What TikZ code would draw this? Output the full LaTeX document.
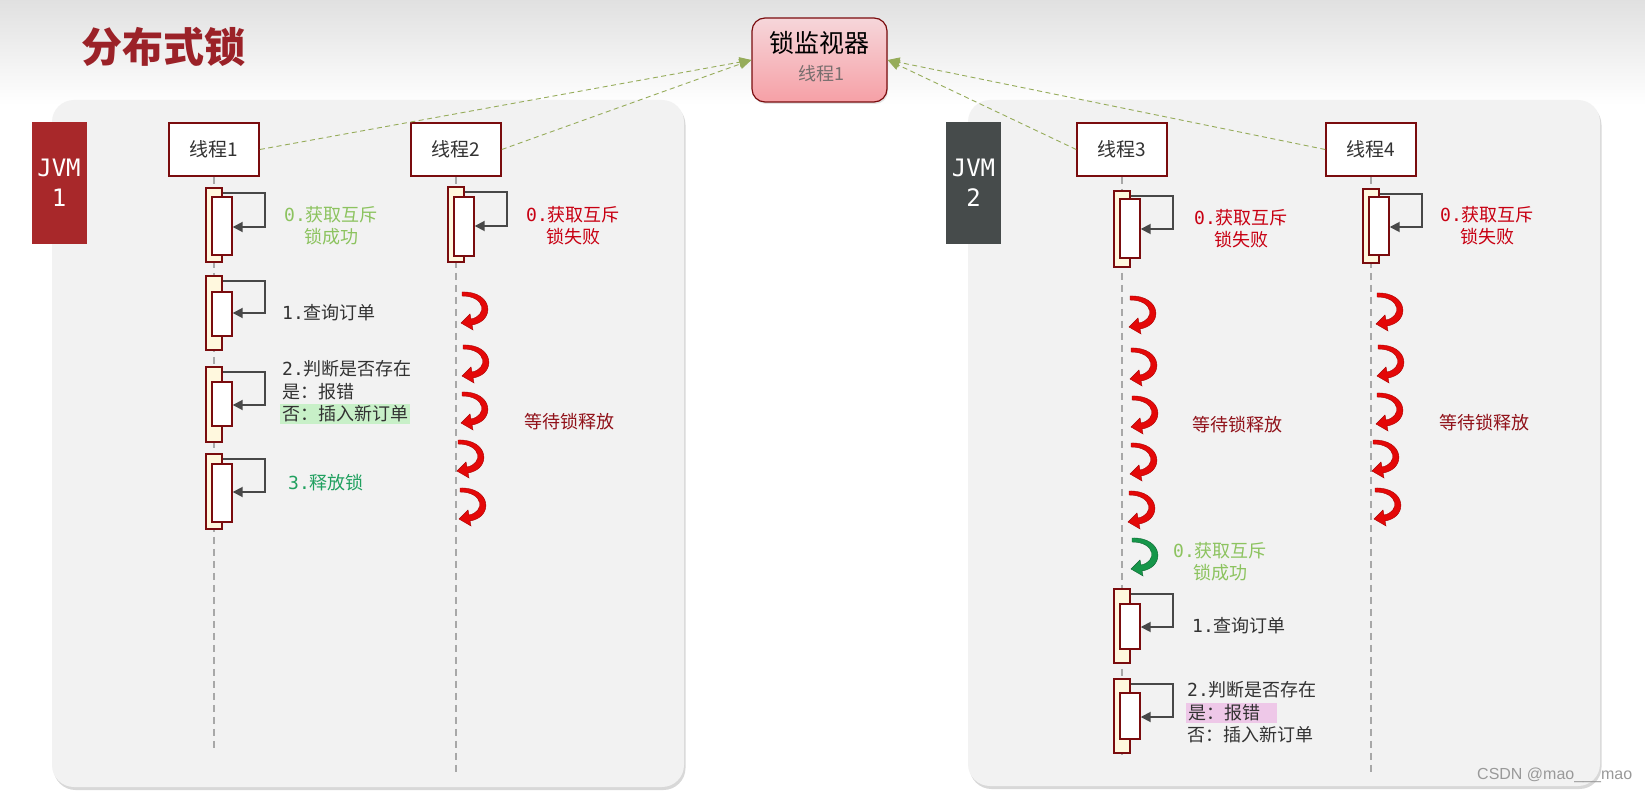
\documentclass[tikz,border=0pt]{standalone}
\usepackage{fontspec}
\usepackage{tikz}
\usetikzlibrary{arrows.meta,shadows,positioning}

\setmainfont{Noto Sans CJK SC}
\newfontfamily\jvmfont{DejaVu Sans Mono}
\newfontfamily\wmfont{Liberation Sans}

\definecolor{titlered}{RGB}{155,34,40}
\definecolor{boxred}{RGB}{122,12,14}
\definecolor{jvmred}{RGB}{168,40,42}
\definecolor{jvmgrey}{RGB}{70,75,75}
\definecolor{panelgrey}{RGB}{242,242,242}
\definecolor{barcream}{RGB}{255,248,222}
\definecolor{selfgrey}{RGB}{72,72,72}
\definecolor{lifegrey}{RGB}{168,168,168}
\definecolor{lockgreen}{RGB}{150,172,90}
\definecolor{okgreen}{RGB}{140,195,95}
\definecolor{relgreen}{RGB}{32,160,95}
\definecolor{failred}{RGB}{200,0,18}
\definecolor{waitred}{RGB}{145,18,26}
\definecolor{curlred}{RGB}{228,8,8}
\definecolor{curldark}{RGB}{170,0,0}
\definecolor{curlgreen}{RGB}{22,150,74}
\definecolor{curlgdark}{RGB}{12,100,48}
\definecolor{hlgreen}{RGB}{200,240,200}
\definecolor{hlpink}{RGB}{238,200,232}
\definecolor{textgrey}{RGB}{50,50,50}
\definecolor{subgrey}{RGB}{120,110,110}
\definecolor{pinktop}{RGB}{246,214,218}
\definecolor{pinkbot}{RGB}{246,160,166}

\begin{document}
\begin{tikzpicture}[x=1pt,y=-1pt,
  thread/.style={draw=boxred, line width=1.6pt, fill=white, minimum width=90pt, minimum height=53pt, font=\fontsize{19}{22}\selectfont, text=textgrey},
  jvm/.style={minimum width=55pt, minimum height=122pt, align=center, text=white, font=\jvmfont\fontsize{24}{30}\selectfont},
  outerbar/.style={draw=boxred, line width=1.4pt, fill=barcream, minimum width=16pt, inner sep=0pt},
  innerbar/.style={draw=boxred, line width=1.4pt, fill=white, minimum width=20pt, inner sep=0pt},
  selfarrow/.style={draw=selfgrey, line width=1.8pt, -{Triangle[length=10pt,width=10pt]}},
  lifeline/.style={draw=lifegrey, line width=1.3pt, dash pattern=on 7pt off 5pt},
  lockarrow/.style={draw=lockgreen, line width=0.9pt, dash pattern=on 5pt off 3.5pt, -{Triangle[length=12pt,width=10pt]}},
  lbl/.style={font=\fontsize{18}{22}\selectfont, align=center, inner sep=0pt},
  curl/.pic={
    \path[pic actions] (0,-17) .. controls (31,-18) and (34,12) .. (10,16)
      -- (11,21) -- (-1,14) -- (8,5) -- (9,10)
      .. controls (25,7) and (24,-13) .. (0,-13) -- cycle;
  }
]

\useasboundingbox (0,0) rectangle (1645,791);

% background
\fill[white] (0,0) rectangle (1645,791);
\shade[top color=black!12, bottom color=white] (0,0) rectangle (1645,105);

% draw panels
\fill[panelgrey, rounded corners=22pt, drop shadow={shadow xshift=1.5pt, shadow yshift=-3pt, opacity=0.3}] (52,100) rectangle (684,787);
\fill[panelgrey, rounded corners=22pt, drop shadow={shadow xshift=1.5pt, shadow yshift=-3pt, opacity=0.3}] (968,100) rectangle (1600,786);

\node[font=\fontsize{41}{46}\selectfont\bfseries, text=titlered] (title) at (163,47) {分布式锁};

% lock monitor
\node[draw=boxred, line width=1.2pt, rounded corners=13pt, top color=pinktop, bottom color=pinkbot, minimum width=135pt, minimum height=84pt, drop shadow={shadow xshift=1pt, shadow yshift=-2pt, opacity=0.2}] (mon) at (819.5,60) {};
\node[font=\fontsize{25}{28}\selectfont] (montitle) at (819.5,43) {锁监视器};
\node[font=\fontsize{18}{22}\selectfont, text=subgrey] (monsub) at (821,74) {线程1};

% jvms and threads
\node[jvm, fill=jvmred] (jvm1) at (59,183) {JVM\\1};
\node[jvm, fill=jvmgrey] (jvm2) at (973.5,183) {JVM\\2};

\node[thread] (t1) at (214,149.5) {线程1};
\node[thread] (t2) at (456,149.5) {线程2};
\node[thread] (t3) at (1122,149.5) {线程3};
\node[thread] (t4) at (1371,149.5) {线程4};

% links to the monitor
\draw[lockarrow] (t1.east) -- (mon.west);
\draw[lockarrow] (t2.east) -- (mon.west);
\draw[lockarrow] (t3.west) -- (mon.east);
\draw[lockarrow] (t4.west) -- (mon.east);

% lifelines
\coordinate (t1end) at (214,750);
\coordinate (t2end) at (456,772);
\coordinate (t3end) at (1122,755);
\coordinate (t4end) at (1371,772);
\draw[lifeline] (t1) -- (t1end);
\draw[lifeline] (t2) -- (t2end);
\draw[lifeline] (t3) -- (t3end);
\draw[lifeline] (t4) -- (t4end);

% activation bars
\foreach \n/\x/\t/\b/\it/\ib/\ay in {a/214/188/262/197/255/227, b/214/276/350/292/336/313,
    c/214/367/442/382/426/405, d/214/454/529/464/522/492, e/456/187/262/197/256/226,
    f/1122/191/267/199/258/229, g/1122/589/663/604/649/627, h/1122/679/753/693/739/717,
    k/1371/189/263/197/255/227}{
  \node[outerbar, minimum height=\b-\t] (\n o) at (\x,{(\t+\b)/2}) {};
  \node[innerbar, minimum height=\ib-\it] (\n i) at (\x+8,{(\it+\ib)/2}) {};
  \coordinate (\n c) at (\x+51,\ay);
  \draw[selfarrow] ([yshift=-6pt]\n o.north east) -| (\n c) -- (\n i.east |- \n c);
}

% waiting
\foreach \x/\y in {462/309, 463/362, 462/409, 458/457, 460/505,
    1130/313, 1131/365, 1132/413, 1131/460, 1129/508,
    1377/310, 1378/362, 1377/410, 1373/457, 1375/505}
  \pic[fill=curlred, draw=curldark, line width=0.4pt] at (\x,\y) {curl};
\pic[fill=curlgreen, draw=curlgdark, line width=0.4pt] at (1132,555) {curl};

% thread 1 notes
\node[lbl, text=okgreen] (n1a) at (331,226) {{\jvmfont 0.}获取互斥\\锁成功};
\node[lbl, text=textgrey, anchor=west] (n1b) at (282,313) {{\jvmfont 1.}查询订单};
\node[lbl, text=textgrey, anchor=west] (n1c) at (282,369) {{\jvmfont 2.}判断是否存在};
\node[lbl, text=textgrey, anchor=west] (n1d) at (282,392) {是：报错};
\node[lbl, text=textgrey, anchor=west, fill=hlgreen, inner sep=2pt] (n1e) at (280,414) {否：插入新订单};
\node[lbl, text=relgreen, anchor=west] (n1f) at (288,483) {{\jvmfont 3.}释放锁};

% thread 2 notes
\node[lbl, text=failred] (n2a) at (573,226) {{\jvmfont 0.}获取互斥\\锁失败};
\node[lbl, text=waitred] (n2b) at (569,422) {等待锁释放};

% thread 3 notes
\node[lbl, text=failred] (n3a) at (1241,229) {{\jvmfont 0.}获取互斥\\锁失败};
\node[lbl, text=waitred] (n3b) at (1237,425) {等待锁释放};
\node[lbl, text=okgreen] (n3c) at (1220,562) {{\jvmfont 0.}获取互斥\\锁成功};
\node[lbl, text=textgrey, anchor=west] (n3d) at (1192,626) {{\jvmfont 1.}查询订单};
\node[lbl, text=textgrey, anchor=west] (n3e) at (1187,690) {{\jvmfont 2.}判断是否存在};
\node[lbl, text=textgrey, anchor=west, fill=hlpink, inner sep=2pt, text width=87pt, align=left] (n3f) at (1186,713) {是：报错};
\node[lbl, text=textgrey, anchor=west] (n3g) at (1187,735) {否：插入新订单};

% thread 4 notes
\node[lbl, text=failred] (n4a) at (1487,226) {{\jvmfont 0.}获取互斥\\锁失败};
\node[lbl, text=waitred] (n4b) at (1484,423) {等待锁释放};

\node[font=\wmfont\fontsize{16}{18}\selectfont, text=black!40, anchor=west, inner sep=0pt] (mark) at (1477,775) {CSDN @mao\_\_\_mao};

\end{tikzpicture}
\end{document}
